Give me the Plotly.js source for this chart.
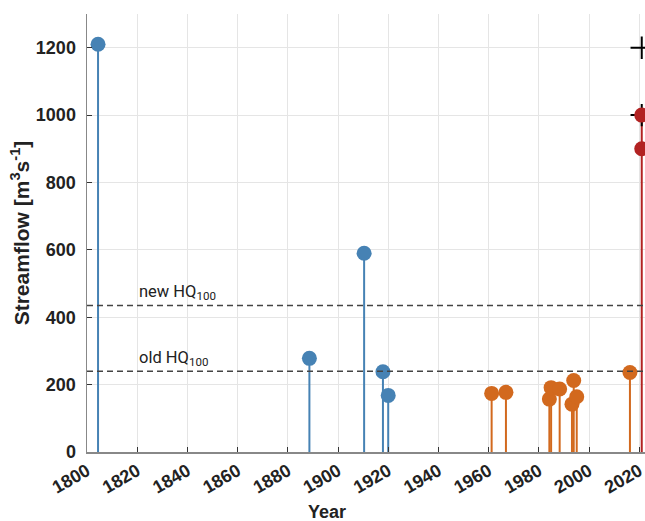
<!DOCTYPE html>
<html>
<head>
<meta charset="utf-8">
<script src="https://cdn.plot.ly/plotly-3.0.1.min.js"></script>
<style>
  html, body { margin: 0; padding: 0; background: #fff; }
  #chart { width: 645px; height: 521px; }
</style>
</head>
<body>
<div id="chart"></div>
<script>
// Historical floods (documentary record)
const histYears = [1804.4, 1888.6, 1910.4, 1917.9, 1920.0];
const histQ = [1210, 278, 590, 238, 168];

// Gauged annual peaks
const gaugeYears = [1961.2, 1966.9, 1984.2, 1984.9, 1988.3, 1993.2, 1993.9, 1995.1, 2016.3];
const gaugeQ = [174, 177, 157, 191, 187, 142, 212, 164, 236];

// Recent event: estimates
const eventYears = [2021, 2021];
const eventQ = [1000, 900];
const rangeYears = [2021, 2021];
const rangeQ = [1200, 1000];

// Design flood levels
const hqLabels = ['new HQ<sub>100</sub>', 'old HQ<sub>100</sub>'];
const hqValues = [435, 240];

const xTicks = [1800, 1820, 1840, 1860, 1880, 1900, 1920, 1940, 1960, 1980, 2000, 2020];
const yTicks = [0, 200, 400, 600, 800, 1000, 1200];

const BLUE = '#4682b4', ORANGE = '#d2691e', RED = '#b22222';

// vertical stems from zero to each value
function stems(xs, ys) {
  const x = [], y = [];
  xs.forEach((v, i) => { x.push(v, v, null); y.push(0, ys[i], null); });
  return { x, y };
}

function stemTrace(xs, ys, color) {
  const s = stems(xs, ys);
  return { x: s.x, y: s.y, mode: 'lines', line: { color, width: 2 },
           hoverinfo: 'skip', showlegend: false };
}
function dotTrace(xs, ys, color) {
  return { x: xs, y: ys, mode: 'markers', showlegend: false,
           marker: { color, size: 15, line: { width: 0 } } };
}

const traces = [
  stemTrace(histYears, histQ, BLUE),
  stemTrace(gaugeYears, gaugeQ, ORANGE),
  stemTrace([eventYears[0]], [Math.max(...eventQ)], RED),
  { x: rangeYears, y: rangeQ, mode: 'markers', showlegend: false,
    marker: { symbol: 'cross-thin', size: 16, line: { color: '#000', width: 2 } } },
  dotTrace(histYears, histQ, BLUE),
  dotTrace(gaugeYears, gaugeQ, ORANGE),
  dotTrace(eventYears, eventQ, RED)
];

const shapes = hqValues.map(v => ({
  type: 'line', xref: 'paper', x0: 0, x1: 1, yref: 'y', y0: v, y1: v,
  line: { color: '#444', width: 1.5, dash: '6px,4px' }, layer: 'above'
}));

const titleFont = { family: 'Liberation Sans, Arial, sans-serif', size: 18, color: '#222', weight: 'bold' };

const annotations = hqValues.map((v, i) => ({
  x: 1820, y: v, xref: 'x', yref: 'y', text: hqLabels[i], showarrow: false,
  xanchor: 'left', yanchor: 'bottom',
  font: { family: 'Roboto, sans-serif', size: 16.5, color: '#222' }
}));
annotations.push({
  xref: 'paper', yref: 'paper', x: 0.43, y: 0, yshift: -48, text: 'Year',
  showarrow: false, xanchor: 'center', yanchor: 'top', font: titleFont
});

const axisFont = { family: 'Liberation Sans, Arial, sans-serif', size: 18, color: '#222', weight: 'bold' };

const layout = {
  width: 645, height: 521,
  margin: { l: 87, r: 0, t: 14, b: 69 },
  paper_bgcolor: '#fff', plot_bgcolor: '#fff',
  showlegend: false,
  xaxis: {
    range: [1800, 2022.3], tickvals: xTicks, ticktext: xTicks.map(String),
    tickangle: -30, tickfont: axisFont, ticklabeloverflow: 'allow',
    showgrid: true, gridcolor: '#e5e5e5', gridwidth: 1,
    showline: true, linecolor: '#888', linewidth: 1.5,
    ticks: 'inside', ticklen: 5, tickcolor: '#333', tickwidth: 1,
    zeroline: false
  },
  yaxis: {
    range: [0, 1300], tickvals: yTicks, ticktext: yTicks.map(String),
    tickfont: axisFont, ticklabelstandoff: 6,
    showgrid: true, gridcolor: '#e5e5e5', gridwidth: 1,
    showline: true, linecolor: '#888', linewidth: 1.5,
    ticks: 'inside', ticklen: 5, tickcolor: '#333', tickwidth: 1,
    zeroline: false,
    title: { text: 'Streamflow [m<sup>3</sup>s<sup>-1</sup>]',
             font: { family: 'Liberation Sans, Arial, sans-serif', size: 21, color: '#222', weight: 'bold' },
             standoff: 0 }
  },
  shapes, annotations
};

Plotly.newPlot('chart', traces, layout, { displayModeBar: false, staticPlot: true });
</script>
</body>
</html>
